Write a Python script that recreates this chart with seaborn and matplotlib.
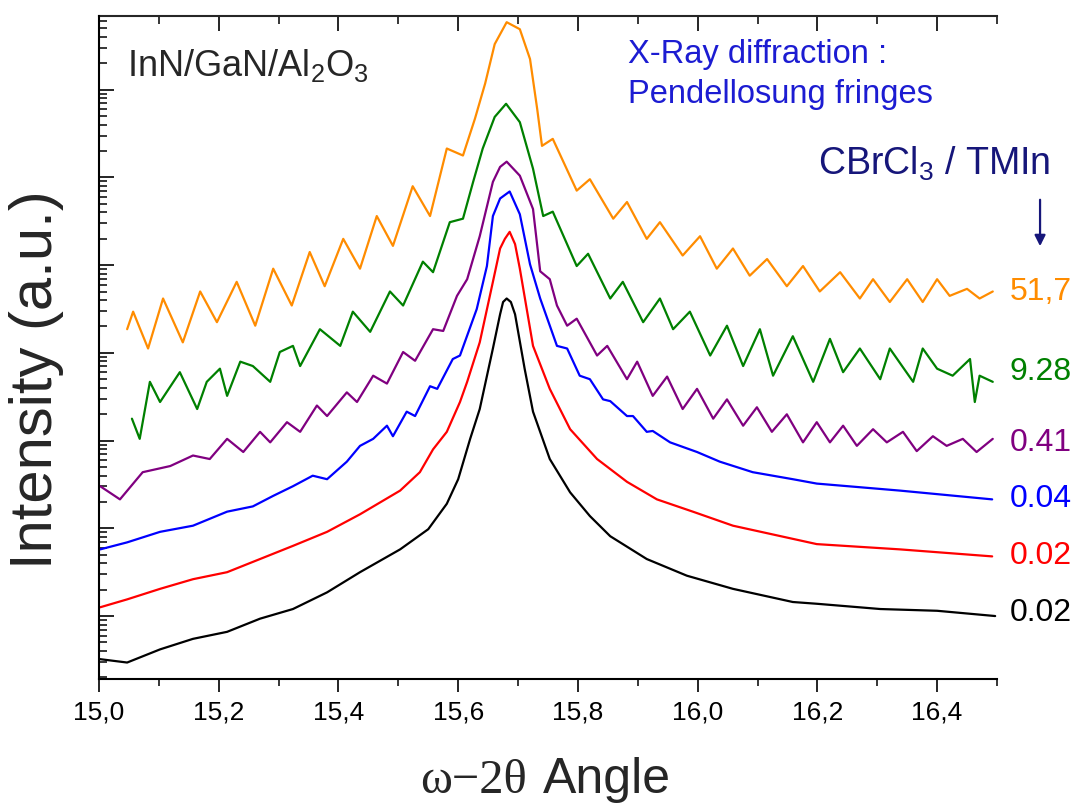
import numpy as np
import pandas as pd
import matplotlib
matplotlib.use("Agg")
import matplotlib.pyplot as plt
import seaborn as sns
from matplotlib.ticker import LogLocator, MultipleLocator, NullFormatter

# ---------------- data (log10 of intensity, a.u.) ----------------
black_x = [15.000, 15.047, 15.102, 15.157, 15.214, 15.269, 15.324, 15.381, 15.436, 15.503,
           15.550, 15.581, 15.600, 15.620, 15.636, 15.658, 15.670, 15.675, 15.681, 15.688,
           15.695, 15.711, 15.725, 15.753, 15.787, 15.820, 15.854, 15.915, 15.982, 16.059,
           16.159, 16.199, 16.305, 16.400, 16.497]
black_log = [-0.49, -0.53, -0.38, -0.26, -0.18, -0.03, 0.08, 0.27, 0.50, 0.76,
             0.99, 1.28, 1.56, 2.02, 2.36, 3.05, 3.44, 3.58, 3.62, 3.58,
             3.44, 2.82, 2.33, 1.79, 1.41, 1.14, 0.91, 0.65, 0.46, 0.31,
             0.16, 0.14, 0.08, 0.06, 0.00]

red_x = [15.002, 15.047, 15.102, 15.157, 15.214, 15.269, 15.324, 15.381, 15.436, 15.503,
         15.536, 15.558, 15.581, 15.603, 15.615, 15.636, 15.658, 15.670, 15.678, 15.686,
         15.695, 15.703, 15.725, 15.753, 15.787, 15.832, 15.882, 15.932, 15.992, 16.059,
         16.159, 16.199, 16.338, 16.492]
red_log = [0.10, 0.19, 0.31, 0.42, 0.50, 0.65, 0.80, 0.96, 1.16, 1.43,
           1.64, 1.90, 2.10, 2.44, 2.67, 3.12, 3.81, 4.19, 4.30, 4.38,
           4.24, 3.96, 3.08, 2.59, 2.13, 1.79, 1.53, 1.33, 1.19, 1.03,
           0.88, 0.82, 0.76, 0.68]

blue_x = [15.002, 15.047, 15.102, 15.157, 15.214, 15.257, 15.291, 15.324, 15.357, 15.381,
          15.414, 15.436, 15.458, 15.481, 15.491, 15.514, 15.528, 15.553, 15.565, 15.591,
          15.603, 15.631, 15.648, 15.658, 15.670, 15.686, 15.703, 15.720, 15.737, 15.765,
          15.782, 15.803, 15.820, 15.842, 15.854, 15.882, 15.892, 15.915, 15.925, 15.954,
          15.999, 16.037, 16.092, 16.159, 16.199, 16.338, 16.492]
blue_log = [0.76, 0.84, 0.96, 1.03, 1.19, 1.25, 1.37, 1.48, 1.60, 1.56,
            1.76, 1.94, 2.02, 2.17, 2.05, 2.33, 2.28, 2.62, 2.59, 2.93,
            2.97, 3.50, 3.99, 4.56, 4.76, 4.84, 4.58, 4.01, 3.62, 3.08,
            3.05, 2.74, 2.70, 2.47, 2.45, 2.28, 2.28, 2.10, 2.11, 1.98,
            1.87, 1.76, 1.64, 1.56, 1.51, 1.43, 1.33]

purple_x = [15.002, 15.035, 15.073, 15.119, 15.157, 15.185, 15.214, 15.241, 15.269, 15.286,
            15.314, 15.336, 15.364, 15.381, 15.414, 15.431, 15.458, 15.481, 15.508, 15.528,
            15.558, 15.575, 15.598, 15.615, 15.636, 15.658, 15.670, 15.681, 15.703, 15.725,
            15.737, 15.753, 15.765, 15.782, 15.798, 15.832, 15.849, 15.882, 15.899, 15.925,
            15.949, 15.975, 15.999, 16.026, 16.049, 16.076, 16.099, 16.124, 16.149, 16.176,
            16.199, 16.221, 16.243, 16.266, 16.293, 16.316, 16.343, 16.366, 16.393, 16.416,
            16.443, 16.466, 16.493]
purple_log = [1.48, 1.33, 1.64, 1.71, 1.83, 1.79, 2.02, 1.87, 2.10, 1.98,
              2.21, 2.10, 2.40, 2.28, 2.55, 2.44, 2.74, 2.65, 3.01, 2.91,
              3.27, 3.25, 3.65, 3.84, 4.33, 4.95, 5.12, 5.18, 5.02, 4.64,
              3.93, 3.84, 3.54, 3.31, 3.39, 2.97, 3.08, 2.70, 2.90, 2.51,
              2.73, 2.36, 2.59, 2.25, 2.47, 2.17, 2.38, 2.10, 2.30, 1.98,
              2.21, 1.98, 2.17, 1.94, 2.13, 1.98, 2.10, 1.88, 2.05, 1.94,
              2.02, 1.87, 2.02]

green_x = [15.055, 15.068, 15.085, 15.102, 15.135, 15.164, 15.180, 15.202, 15.214, 15.236,
           15.257, 15.286, 15.302, 15.324, 15.336, 15.369, 15.403, 15.424, 15.453, 15.486,
           15.508, 15.541, 15.558, 15.586, 15.608, 15.625, 15.641, 15.661, 15.680, 15.703,
           15.725, 15.742, 15.758, 15.798, 15.817, 15.854, 15.875, 15.909, 15.937, 15.959,
           15.987, 16.021, 16.049, 16.076, 16.104, 16.126, 16.159, 16.193, 16.221, 16.243,
           16.271, 16.305, 16.321, 16.360, 16.376, 16.400, 16.426, 16.455, 16.463, 16.471,
           16.493]
green_log = [2.25, 2.02, 2.67, 2.44, 2.78, 2.36, 2.67, 2.82, 2.51, 2.90,
             2.85, 2.67, 3.01, 3.08, 2.85, 3.27, 3.08, 3.47, 3.24, 3.70,
             3.54, 4.04, 3.92, 4.49, 4.53, 4.95, 5.33, 5.69, 5.84, 5.63,
             5.10, 4.56, 4.61, 3.99, 4.13, 3.62, 3.81, 3.35, 3.62, 3.27,
             3.47, 2.97, 3.31, 2.85, 3.27, 2.74, 3.19, 2.67, 3.16, 2.78,
             3.05, 2.70, 3.05, 2.67, 3.05, 2.82, 2.74, 2.93, 2.44, 2.74,
             2.67]

orange_x = [15.047, 15.057, 15.082, 15.107, 15.140, 15.169, 15.197, 15.230, 15.261, 15.291,
            15.322, 15.352, 15.377, 15.408, 15.436, 15.464, 15.491, 15.524, 15.553, 15.581,
            15.608, 15.628, 15.645, 15.661, 15.681, 15.703, 15.720, 15.732, 15.740, 15.758,
            15.798, 15.820, 15.859, 15.882, 15.915, 15.937, 15.975, 16.004, 16.032, 16.059,
            16.087, 16.116, 16.149, 16.176, 16.204, 16.238, 16.271, 16.293, 16.321, 16.350,
            16.376, 16.400, 16.421, 16.450, 16.471, 16.493]
orange_log = [3.27, 3.47, 3.05, 3.62, 3.12, 3.70, 3.35, 3.81, 3.31, 3.96,
              3.54, 4.15, 3.76, 4.30, 3.96, 4.56, 4.22, 4.90, 4.56, 5.33,
              5.25, 5.67, 6.07, 6.52, 6.77, 6.69, 6.35, 5.78, 5.36, 5.44,
              4.85, 4.98, 4.53, 4.72, 4.30, 4.49, 4.11, 4.33, 3.96, 4.19,
              3.88, 4.07, 3.76, 3.99, 3.70, 3.92, 3.62, 3.84, 3.58, 3.84,
              3.58, 3.84, 3.65, 3.73, 3.62, 3.70]

sample_names = ["s1", "s2", "s3", "s4", "s5", "s6"]
ratio_labels = ["0.02", "0.02", "0.04", "0.41", "9.28", "51,7"]
curve_colors = ["#000000", "#ff0000", "#0000ff", "#800080", "#008000", "#ff8c00"]
xtick_values = [15.0, 15.2, 15.4, 15.6, 15.8, 16.0, 16.2, 16.4]
xtick_labels = ["15,0", "15,2", "15,4", "15,6", "15,8", "16,0", "16,2", "16,4"]

series = [(black_x, black_log), (red_x, red_log), (blue_x, blue_log),
          (purple_x, purple_log), (green_x, green_log), (orange_x, orange_log)]
frames = []
for name, (xs, ls) in zip(sample_names, series):
    frames.append(pd.DataFrame({"angle": xs, "intensity": 10 ** np.asarray(ls), "sample": name}))
df = pd.concat(frames, ignore_index=True)

# ---------------- figure ----------------
sns.set_style("ticks")
plt.rcParams["font.family"] = ["Liberation Sans", "DejaVu Sans"]
plt.rcParams["mathtext.fontset"] = "custom"
plt.rcParams["mathtext.rm"] = "Liberation Sans"

fig = plt.figure(figsize=(10.82, 8.04), dpi=100)
ax = fig.add_axes([0.0915, 0.1542, 0.8299, 0.8247])

sns.lineplot(data=df, x="angle", y="intensity", hue="sample", hue_order=sample_names,
             palette=dict(zip(sample_names, curve_colors)), sort=False, estimator=None,
             legend=False, linewidth=1.6, ax=ax)

ax.set_yscale("log")
ax.set_xlim(15.0, 16.5)
ax.set_ylim(10 ** -0.718, 10 ** 6.841)
ax.set_xlabel("")
ax.set_ylabel("")

for side in ["left", "bottom", "top"]:
    ax.spines[side].set_linewidth(1.5)
    ax.spines[side].set_color("black")
ax.spines["right"].set_visible(False)
ax.spines["top"].set_visible(False)

ax.yaxis.set_major_locator(LogLocator(base=10, numticks=100))
ax.yaxis.set_minor_locator(LogLocator(base=10, subs=np.arange(2, 10), numticks=100))
ax.yaxis.set_minor_formatter(NullFormatter())
ax.tick_params(axis="y", which="major", direction="in", length=11, width=1.2,
               left=True, right=False, labelleft=False, color="black")
ax.tick_params(axis="y", which="minor", direction="in", length=5.5, width=1.1,
               left=True, right=False, color="black")

ax.set_xticks(xtick_values, labels=xtick_labels)
ax.xaxis.set_minor_locator(MultipleLocator(0.1))
ax.tick_params(axis="x", which="major", direction="out", length=9.5, width=1.2,
               labelsize=19, pad=5, top=False, color="black", labelcolor="black")
ax.tick_params(axis="x", which="minor", direction="out", length=5, width=1.1,
               top=False, color="black")

secax = ax.secondary_xaxis("top")
secax.set_xticks(xtick_values)
secax.xaxis.set_minor_locator(MultipleLocator(0.1))
secax.tick_params(axis="x", which="major", direction="in", length=11, width=1.2,
                  labeltop=False, color="black")
secax.tick_params(axis="x", which="minor", direction="in", length=5.5, width=1.1,
                  color="black")
secax.spines["top"].set_linewidth(1.5)

# axis labels
fig.text(37 / 1082, 1 - 380 / 804, "Intensity (a.u.)", rotation=90, ha="center",
         va="center", fontsize=43)
fig.text(527 / 1082, 1 - 793 / 804, "ω−2θ", family=["Liberation Serif", "DejaVu Serif"],
         fontsize=35, ha="right", va="baseline")
fig.text(543 / 1082, 1 - 793 / 804, "Angle", fontsize=36, ha="left", va="baseline")

# annotations
ax.text(0.0312, 0.911, r"InN/GaN/Al$_{\mathregular{2}}$O$_{\mathregular{3}}$",
        transform=ax.transAxes, fontsize=26, ha="left", va="baseline")
blue_txt = "#1c1cd2"
ax.text(0.589, 0.9306, "X-Ray diffraction :", transform=ax.transAxes, fontsize=23.5,
        color=blue_txt, ha="left", va="baseline")
ax.text(0.589, 0.8703, "Pendellosung fringes", transform=ax.transAxes, fontsize=23.5,
        color=blue_txt, ha="left", va="baseline")
navy = "#16167a"
ax.text(0.8007, 0.7617, r"CBrCl$_{\mathregular{3}}$ / TMIn", transform=ax.transAxes,
        fontsize=27, color=navy, ha="left", va="baseline")
ax.annotate("", xy=(1.048, 0.6486), xytext=(1.048, 0.727), xycoords="axes fraction",
            textcoords="axes fraction", annotation_clip=False,
            arrowprops=dict(arrowstyle="-|>", color=navy, lw=1.6, mutation_scale=16))

label_y = [0.101, 0.187, 0.273, 0.357, 0.4646, 0.585]
for txt, col, yy in zip(ratio_labels, curve_colors, label_y):
    ax.text(1.0145, yy, txt, transform=ax.transAxes, fontsize=23, color=col,
            ha="left", va="center", clip_on=False)

fig.savefig("out.png", dpi=100)
